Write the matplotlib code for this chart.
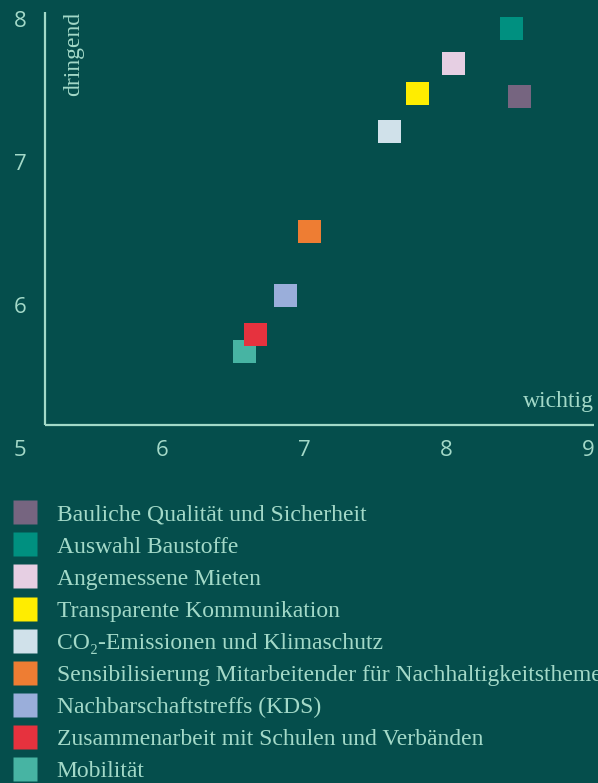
import matplotlib
matplotlib.use("Agg")
import matplotlib.pyplot as plt
from matplotlib.lines import Line2D

# ---------------------------------------------------------------------------
# data
# ---------------------------------------------------------------------------
topics = [
    "Bauliche Qualität und Sicherheit",
    "Auswahl Baustoffe",
    "Angemessene Mieten",
    "Transparente Kommunikation",
    "CO₂-Emissionen und Klimaschutz",
    "Sensibilisierung Mitarbeitender für Nachhaltigkeitsthemen",
    "Nachbarschaftstreffs (KDS)",
    "Zusammenarbeit mit Schulen und Verbänden",
    "Mobilität",
]
wichtig = [8.52, 8.46, 8.05, 7.80, 7.60, 7.04, 6.87, 6.66, 6.58]
dringend = [7.47, 7.95, 7.70, 7.49, 7.23, 6.53, 6.08, 5.81, 5.69]
colors = ["#766580", "#009080", "#e6cfe3", "#ffed00", "#d0e1ea",
          "#ee7d33", "#9aaeda", "#e6323e", "#47b4a3"]

x_ticks = [5, 6, 7, 8, 9]
y_ticks = [6, 7, 8]

BG = "#054e4c"
FG = "#a3d9c8"
SERIF = ["Liberation Serif", "DejaVu Serif"]
SANS = ["Open Sans", "DejaVu Sans"]

W, H = 598, 783
fig = plt.figure(figsize=(W / 100, H / 100), dpi=100)
fig.patch.set_facecolor(BG)

# axes: x 5..9.04 -> px 20..594, y 5..8.065 -> px 450..12
x0, x1 = 5, 9.04
y0, y1 = 5, 8.065
left, right = 20, 20 + (x1 - x0) * 142
bottom = H - 450
top = bottom + (y1 - y0) * 143
ax = fig.add_axes([left / W, bottom / H, (right - left) / W, (top - bottom) / H])
ax.set_facecolor(BG)
ax.set_xlim(x0, x1)
ax.set_ylim(y0, y1)
ax.axis("off")

# axis lines (offset from the tick labels)
corner = 5.175
ax.plot([corner, corner], [corner, y1], color=FG, lw=1.6, clip_on=False,
        solid_capstyle="butt")
ax.plot([corner, x1], [corner, corner], color=FG, lw=1.6, clip_on=False,
        solid_capstyle="butt")

for t in x_ticks:
    ax.text(t, 5, str(t), ha="center", va="center", fontsize=16,
            color=FG, family=SANS)
for t in y_ticks:
    ax.text(5, t, str(t), ha="center", va="center", fontsize=16,
            color=FG, family=SANS)

ax.text(5.38, y1, "dringend", rotation=90, ha="center", va="top",
        fontsize=17, color=FG, family=SERIF)
ax.text(x1, 5.34, "wichtig", ha="right", va="center",
        fontsize=17, color=FG, family=SERIF)

# squares, drawn back to front so the later topics sit underneath
for i in reversed(range(len(topics))):
    ax.scatter(wichtig[i], dringend[i], marker="s", s=275, color=colors[i],
               edgecolors="none", zorder=3 + (len(topics) - i))

# legend (the longest label runs off the right edge, as in the original)
handles = [Line2D([], [], marker="s", ls="none", markersize=16.6,
                  markerfacecolor=c, markeredgecolor="none") for c in colors]
leg = fig.legend(handles, topics, loc="upper left",
                 bbox_to_anchor=(11.3 / W, 1 - 504 / H), frameon=False,
                 prop={"family": SERIF, "size": 17}, labelcolor=FG,
                 handlelength=1.2, handletextpad=0.72, labelspacing=0.447,
                 borderpad=0, borderaxespad=0)

fig.savefig("out.png", dpi=100, facecolor=BG)
